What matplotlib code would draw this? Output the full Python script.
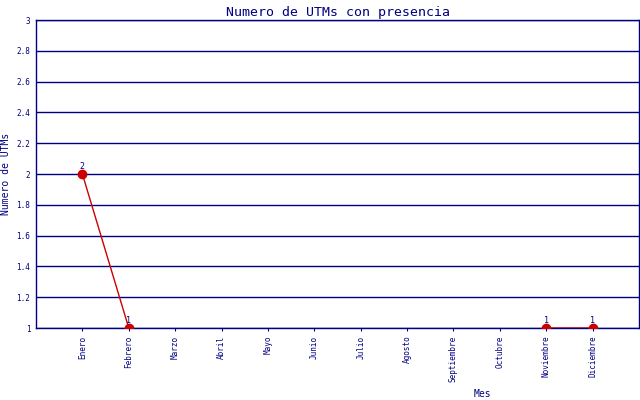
import numpy as np
import matplotlib
matplotlib.use('Agg')
import matplotlib.pyplot as plt

meses = ['Enero', 'Febrero', 'Marzo', 'Abril', 'Mayo', 'Junio', 'Julio',
         'Agosto', 'Septiembre', 'Octubre', 'Noviembre', 'Diciembre']
utms = [2, 1, np.nan, np.nan, np.nan, np.nan, np.nan, np.nan, np.nan, np.nan, 1, 1]

azul = '#000080'
rojo = '#cc0000'

plt.rcParams['font.family'] = 'DejaVu Sans Mono'

fig = plt.figure(figsize=(6.4, 4.0), dpi=100)
ax = fig.add_axes([36/640, 72/400, 603/640, 308/400])

x = np.arange(len(meses))
ax.plot(x, utms, color=rojo, lw=1, zorder=3)
ax.plot(x, utms, 'o', color=rojo, ms=6, zorder=4)
for xi, v in zip(x, utms):
    if not np.isnan(v):
        ax.text(xi, v + 0.02, str(int(v)), ha='center', va='bottom',
                fontsize=6, color=azul, zorder=5)

ax.set_xlim(-1, 12)
ax.set_ylim(1, 3)
ax.set_yticks(np.arange(1, 3.01, 0.2))
ax.set_yticklabels(['1', '1.2', '1.4', '1.6', '1.8', '2', '2.2', '2.4', '2.6', '2.8', '3'])
ax.set_xticks(x)
ax.set_xticklabels(meses, rotation=90)
ax.tick_params(axis='both', colors=azul, labelsize=5.5, length=2, width=0.8)
ax.tick_params(axis='y', length=0, pad=4)
ax.yaxis.grid(True, color=azul, lw=1)
ax.set_axisbelow(True)
for s in ax.spines.values():
    s.set_color(azul)
    s.set_linewidth(1)

ax.set_title('Numero de UTMs con presencia', color=azul, fontsize=9.5, pad=3)
ax.set_ylabel('Numero de UTMs', color=azul, fontsize=7, labelpad=4)
fig.text(482/640, 1 - 394/400, 'Mes', color=azul, fontsize=7, ha='center', va='center')

fig.savefig('out.png', dpi=100)
